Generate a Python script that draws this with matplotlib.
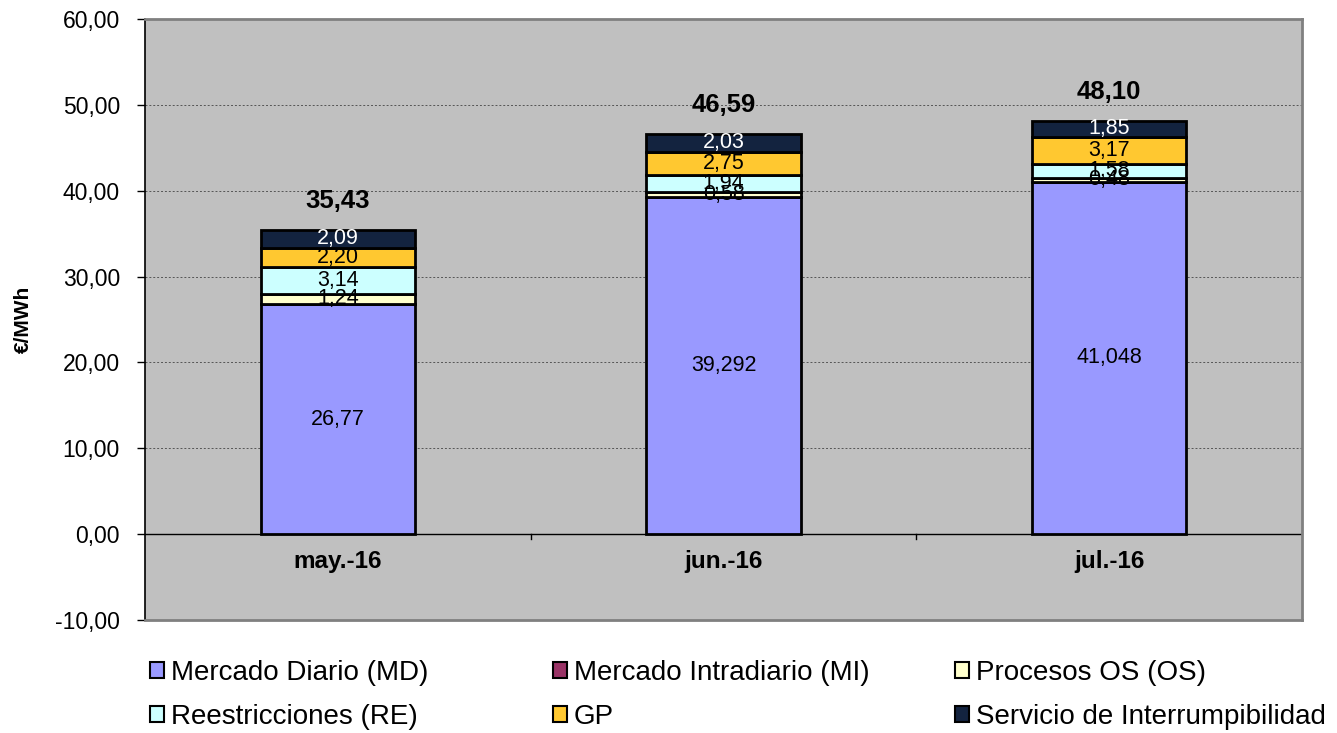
# Stacked monthly price components, €/MWh
import numpy as np
import matplotlib.pyplot as plt
from matplotlib.patches import Patch

plt.rcParams['font.family'] = ['Liberation Sans', 'DejaVu Sans']

months = ["may.-16", "jun.-16", "jul.-16"]
series_names = ["Mercado Diario (MD)", "Mercado Intradiario (MI)", "Procesos OS (OS)",
                "Reestricciones (RE)", "GP", "Servicio de Interrumpibilidad"]
md = [26.77, 39.292, 41.048]
mi = [0.0, 0.0, 0.0]
os_ = [1.24, 0.58, 0.48]
re = [3.14, 1.94, 1.58]
gp = [2.20, 2.75, 3.17]
si = [2.09, 2.03, 1.85]
md_labels = ["26,77", "39,292", "41,048"]
totals = [35.43, 46.59, 48.10]

colors = ["#9999FF", "#993366", "#FFFFCC", "#CCFFFF", "#FFC830", "#13233F"]
text_colors = ["black", "black", "black", "black", "black", "white"]

fig = plt.figure(figsize=(13.37, 7.33), dpi=100)
ax = fig.add_axes([145/1337, 1-620/733, 1157/1337, 601/733])
ax.set_facecolor("#C0C0C0")

x = np.arange(len(months))
width = 0.4
bottom = np.zeros(len(months))
all_series = [md, mi, os_, re, gp, si]
for i, vals in enumerate(all_series):
    vals = np.array(vals)
    ax.bar(x, vals, width, bottom=bottom, color=colors[i], edgecolor="black",
           linewidth=2, zorder=3)
    if i != 1:
        for j in range(len(months)):
            if i == 0:
                lbl = md_labels[j]
            else:
                lbl = f"{vals[j]:.2f}".replace(".", ",")
            ax.text(x[j], bottom[j] + vals[j] / 2, lbl, ha="center", va="center",
                    fontsize=15.5, color=text_colors[i], zorder=4)
    bottom = bottom + vals

for j in range(len(months)):
    ax.text(x[j], bottom[j] + 2.0, f"{totals[j]:.2f}".replace(".", ","),
            ha="center", va="bottom", fontsize=18.5, fontweight="bold", zorder=4)
    ax.text(x[j], -3.2, months[j], ha="center", va="center", fontsize=17.5,
            fontweight="bold", zorder=4)

ax.set_xlim(-0.5, 2.5)
ax.set_ylim(-10, 60)
ax.set_yticks(np.arange(-10, 61, 10))
ax.set_yticklabels([f"{v:.2f}".replace(".", ",") for v in np.arange(-10, 61, 10)],
                   fontsize=16.5)
ax.yaxis.grid(True, color="#555555", linestyle=(0, (2, 2)), linewidth=0.7, zorder=0)
ax.tick_params(axis="y", length=6, width=1, color="black", pad=12)
ax.set_xticks([])
ax.axhline(0, color="black", linewidth=1, zorder=2)
for b in [0.5, 1.5]:
    ax.plot([b, b], [0, -0.6], color="black", linewidth=1, zorder=2)
for s in ["top", "right", "bottom"]:
    ax.spines[s].set_color("#808080")
    ax.spines[s].set_linewidth(2)
ax.spines["left"].set_color("black")
ax.spines["left"].set_linewidth(1.2)
ax.set_ylabel("€/MWh", fontsize=15, fontweight="bold", labelpad=16)

handles = [Patch(facecolor=c, edgecolor="black", linewidth=1.5) for c in colors]
cols = [(0, 3), (1, 4), (2, 5)]
col_x = [150, 553, 955]
for (a, b), cx in zip(cols, col_x):
    fig.legend([handles[a], handles[b]], [series_names[a], series_names[b]],
               loc="upper left", bbox_to_anchor=(cx/1337, 1-660/733), frameon=False,
               fontsize=20, handlelength=0.5, handleheight=0.5, handletextpad=0.25,
               labelspacing=0.65, borderaxespad=0, borderpad=0)

fig.savefig("out.png", dpi=100)
